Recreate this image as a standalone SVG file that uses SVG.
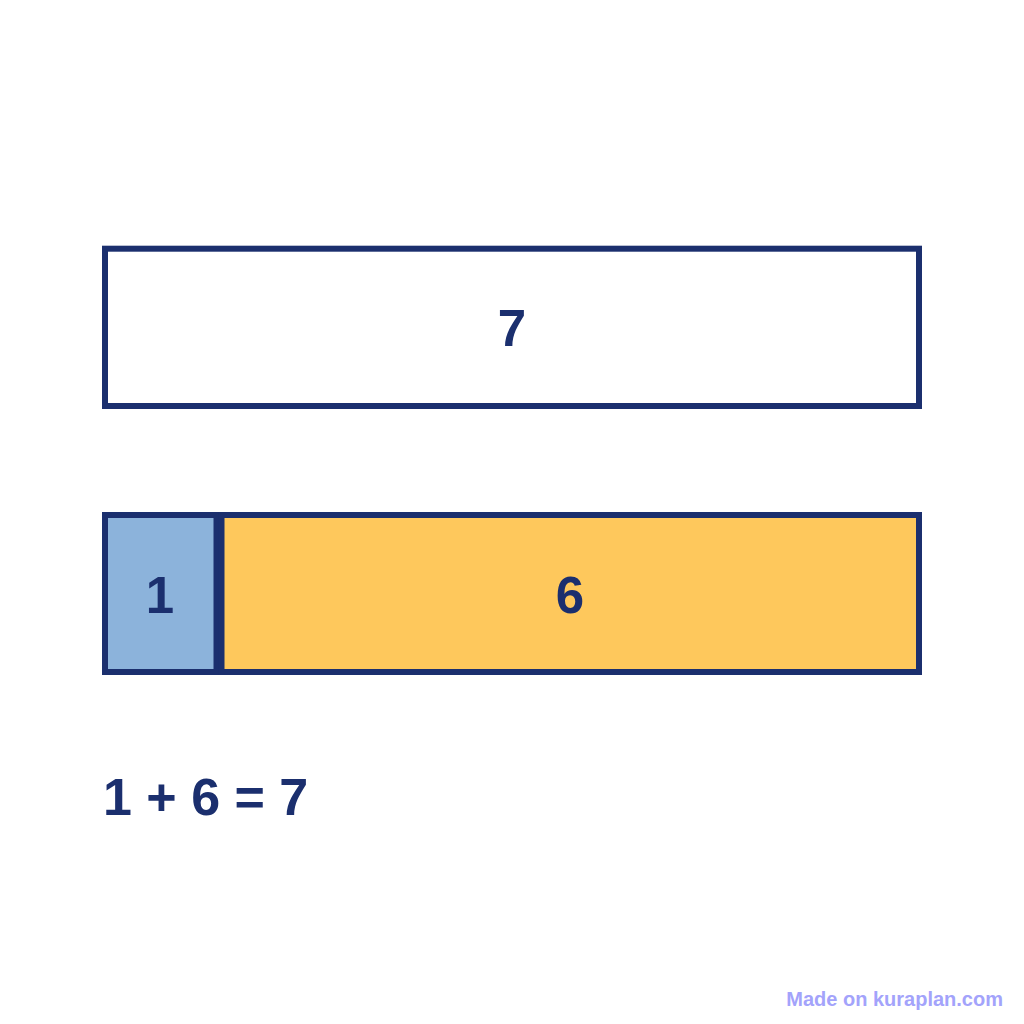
<svg xmlns="http://www.w3.org/2000/svg" width="1024" height="1024" viewBox="0 0 1024 1024">
  <style>
    .box { stroke: #1b2f6e; stroke-width: 6; }
    .num { font-family: "Liberation Sans", Arial, sans-serif; font-weight: bold; font-size: 51px; fill: #1b2f6e; text-anchor: middle; }
    .eq { font-family: "Liberation Sans", Arial, sans-serif; font-weight: bold; font-size: 52px; fill: #1b2f6e; }
    .wm { font-family: "Liberation Sans", Arial, sans-serif; font-weight: bold; font-size: 20px; fill: #a3a3fb; text-anchor: end; }
  </style>
  <rect width="1024" height="1024" fill="#ffffff"/>
  <g id="total">
    <rect class="box" x="105" y="248.7" width="814" height="157.3" fill="#ffffff"/>
    <text class="num" x="512" y="346">7</text>
  </g>
  <g id="part1">
    <rect class="box" x="105" y="515" width="111.5" height="157" fill="#8cb3db"/>
    <text class="num" x="160" y="613">1</text>
  </g>
  <g id="part6">
    <rect class="box" x="221.5" y="515" width="697.5" height="157" fill="#fec85c"/>
    <text class="num" x="570" y="613">6</text>
  </g>
  <g id="equation">
    <text class="eq" x="103" y="815">1 + 6 = 7</text>
  </g>
  <g id="connectors"/>
  <text class="wm" x="1003" y="1006">Made on kuraplan.com</text>
</svg>
